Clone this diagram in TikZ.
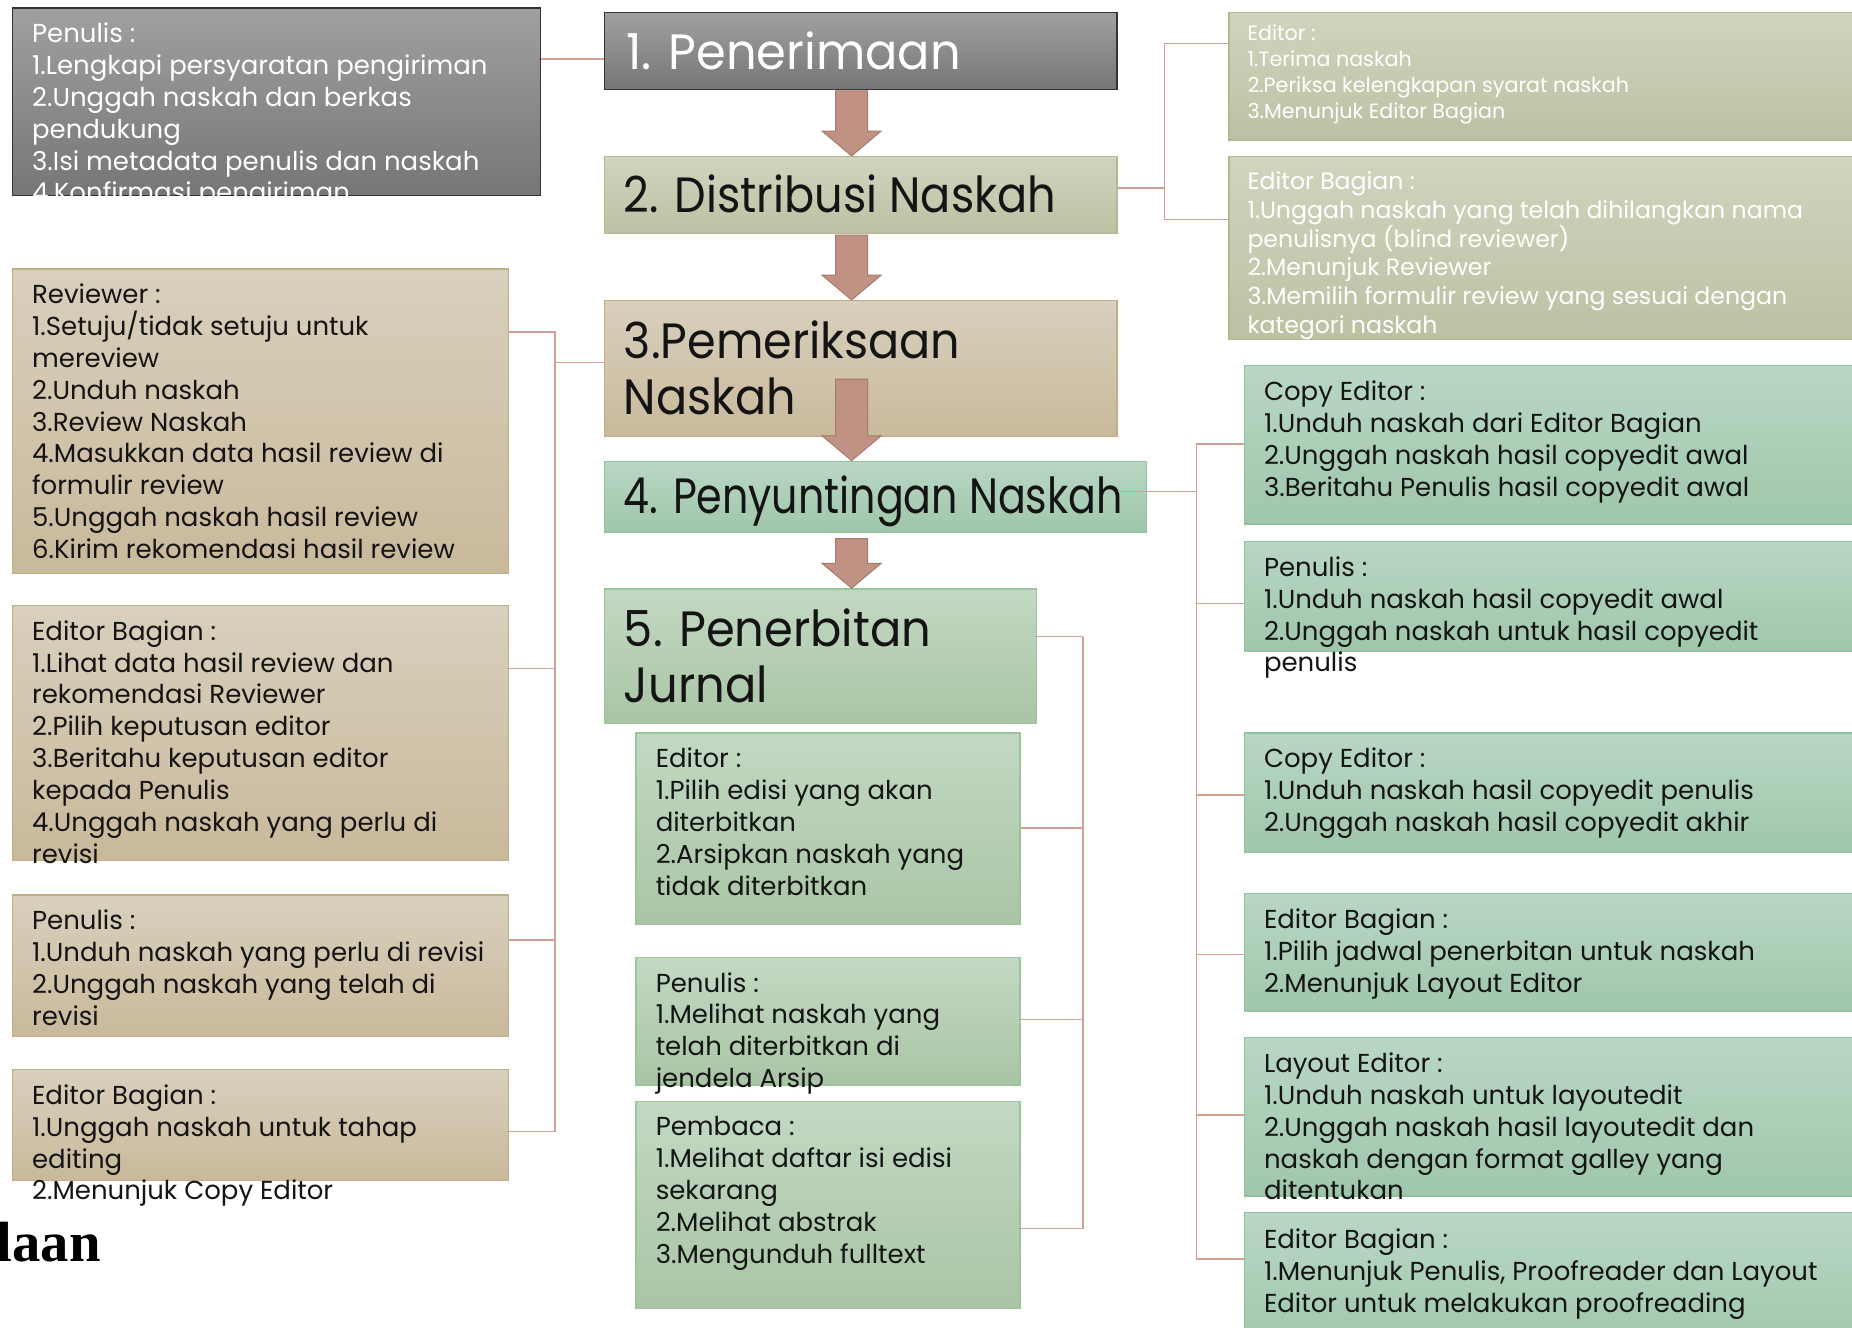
\documentclass[tikz,border=0pt]{standalone}
\usepackage{fontspec}
\newfontfamily\cg{Poppins}
\newfontfamily\fragfont{Liberation Serif}
\usetikzlibrary{calc}
\definecolor{grayT}{HTML}{A0A0A0}
\definecolor{grayBot}{HTML}{767676}
\definecolor{grayB}{HTML}{333333}
\definecolor{oliveT}{HTML}{D1D4BE}
\definecolor{oliveBot}{HTML}{BCC1A3}
\definecolor{oliveB}{HTML}{B3B993}
\definecolor{tanT}{HTML}{D8D0BD}
\definecolor{tanBot}{HTML}{C9B99B}
\definecolor{tanB}{HTML}{C0AE86}
\definecolor{greenT}{HTML}{B9D7C4}
\definecolor{greenBot}{HTML}{9FC6AA}
\definecolor{greenB}{HTML}{8EC29D}
\definecolor{lgreenT}{HTML}{C3D8C3}
\definecolor{lgreenBot}{HTML}{A9C5A5}
\definecolor{lgreenB}{HTML}{9CC49A}
\definecolor{connc}{HTML}{D0A195}
\definecolor{arrF}{HTML}{C09284}
\definecolor{arrB}{HTML}{A6796C}
\definecolor{txtc}{HTML}{141414}
\newcommand{\blockarrow}[4]{% x, top, head start, tip
  \draw[blockarr] (#1-13.5,#2) -- (#1+13.5,#2) -- (#1+13.5,#3) -- (#1+25,#3)
    -- (#1,#4) -- (#1-25,#3) -- (#1-13.5,#3) -- cycle;}
\newcommand{\hs}[2]{\scalebox{#1}[1]{#2}}
\begin{document}
\begin{tikzpicture}[x=1pt,y=-1pt,
  box/.style={rectangle, inner sep=0pt, anchor=north west, line width=1.2pt},
  graybox/.style={box, draw=grayB, top color=grayT, bottom color=grayBot},
  olivebox/.style={box, draw=oliveB, top color=oliveT, bottom color=oliveBot},
  tanbox/.style={box, draw=tanB, top color=tanT, bottom color=tanBot},
  greenbox/.style={box, draw=greenB, top color=greenT, bottom color=greenBot},
  lgreenbox/.style={box, draw=lgreenB, top color=lgreenT, bottom color=lgreenBot},
  txt/.style={anchor=north west, inner sep=0pt, align=left, text=txtc,
    font=\cg\fontsize{22}{27}\selectfont},
  wtxt/.style={txt, text=white},
  title/.style={anchor=north west, inner sep=0pt, align=left, text=txtc,
    font=\cg\fontsize{42}{48}\selectfont},
  conn/.style={draw=connc, line width=1.3pt},
  blockarr/.style={fill=arrF, draw=arrB, line width=0.8pt, line join=miter}
]
\useasboundingbox (0,0) rectangle (1568,1124);

% ---------- centre column ----------
\node[graybox, minimum width=434pt, minimum height=65pt] (B1) at (511,10) {};
\node[olivebox, minimum width=434pt, minimum height=65pt] (B2) at (511,132) {};
\node[tanbox, minimum width=434pt, minimum height=115pt] (B3) at (511,254) {};
\node[greenbox, minimum width=459pt, minimum height=60pt] (B4) at (511,390) {};
\node[lgreenbox, minimum width=366pt, minimum height=114pt] (B5) at (511,498) {};

\node[title, text=white] (B1t) at (530,27) {\hs{0.966}{1. Penerimaan}};
\node[title] (B2t) at (528,148) {\hs{0.90}{2. Distribusi Naskah}};
\node[title] (B3t) at (528,271) {\hs{0.93}{3.Pemeriksaan}\\\hs{0.93}{Naskah}};
\node[title] (B4t) at (528,403) {\hs{0.83}{4. Penyuntingan Naskah}};
\node[title] (B5t) at (528,515) {\hs{0.935}{5. Penerbitan}\\\hs{0.935}{Jurnal}};

% ---------- top-left grey box ----------
\node[graybox, minimum width=447pt, minimum height=159pt] (G) at (10,6) {};
\begin{scope}
\clip (G.north west) rectangle (G.south east);
\node[wtxt] (Gt) at (27,19) {Penulis :\\1.Lengkapi persyaratan pengiriman\\2.Unggah naskah dan berkas\\pendukung\\3.Isi metadata penulis dan naskah\\4.Konfirmasi pengiriman};
\end{scope}

% ---------- top-right olive boxes ----------
\node[olivebox, minimum width=560pt, minimum height=108pt] (R1) at (1040,10) {};
\node[olivebox, minimum width=560pt, minimum height=155pt] (R2) at (1040,132) {};
\node[wtxt, font=\cg\fontsize{17.5}{22}\selectfont] (R1t) at (1056,21) {Editor :\\1.Terima naskah\\2.Periksa kelengkapan syarat naskah\\3.Menunjuk Editor Bagian};
\node[wtxt, font=\cg\fontsize{20}{24.4}\selectfont] (R2t) at (1056,145) {Editor Bagian :\\1.Unggah naskah yang telah dihilangkan nama\\penulisnya (blind reviewer)\\2.Menunjuk Reviewer\\3.Memilih formulir review yang sesuai dengan\\kategori naskah};

% ---------- left tan boxes ----------
\node[tanbox, minimum width=420pt, minimum height=258pt] (L1) at (10,227) {};
\node[tanbox, minimum width=420pt, minimum height=216pt] (L2) at (10,512) {};
\node[tanbox, minimum width=420pt, minimum height=120pt] (L3) at (10,757) {};
\node[tanbox, minimum width=420pt, minimum height=94pt] (L4) at (10,905) {};
\node[txt] (L1t) at (27,240) {Reviewer :\\1.Setuju/tidak setuju untuk\\mereview\\2.Unduh naskah\\3.Review Naskah\\4.Masukkan data hasil review di\\formulir review\\5.Unggah naskah hasil review\\6.Kirim rekomendasi hasil review};
\node[txt] (L2t) at (27,525) {Editor Bagian :\\1.Lihat data hasil review dan\\rekomendasi Reviewer\\2.Pilih keputusan editor\\3.Beritahu keputusan editor\\kepada Penulis\\4.Unggah naskah yang perlu di\\revisi};
\node[txt] (L3t) at (27,770) {Penulis :\\1.Unduh naskah yang perlu di revisi\\2.Unggah naskah yang telah di\\revisi};
\node[txt] (L4t) at (27,918) {Editor Bagian :\\1.Unggah naskah untuk tahap\\editing\\2.Menunjuk Copy Editor};

% ---------- middle green boxes ----------
\node[lgreenbox, minimum width=325pt, minimum height=162pt] (M1) at (538,620) {};
\node[lgreenbox, minimum width=325pt, minimum height=108pt] (M2) at (538,810) {};
\node[lgreenbox, minimum width=325pt, minimum height=175pt] (M3) at (538,932) {};
\node[txt] (M1t) at (555,633) {Editor :\\1.Pilih edisi yang akan\\diterbitkan\\2.Arsipkan naskah yang\\tidak diterbitkan};
\node[txt] (M2t) at (555,823) {Penulis :\\1.Melihat naskah yang\\telah diterbitkan di\\jendela Arsip};
\node[txt] (M3t) at (555,945) {Pembaca :\\1.Melihat daftar isi edisi\\sekarang\\2.Melihat abstrak\\3.Mengunduh fulltext};

% ---------- right green boxes ----------
\node[greenbox, minimum width=547pt, minimum height=134pt] (R3) at (1053,309) {};
\node[greenbox, minimum width=547pt, minimum height=93pt] (R4) at (1053,458) {};
\node[greenbox, minimum width=547pt, minimum height=101pt] (R5) at (1053,620) {};
\node[greenbox, minimum width=547pt, minimum height=100pt] (R6) at (1053,756) {};
\node[greenbox, minimum width=547pt, minimum height=134pt] (R7) at (1053,878) {};
\node[greenbox, minimum width=547pt, minimum height=120pt] (R8) at (1053,1026) {};
\node[txt] (R3t) at (1070,322) {Copy Editor :\\1.Unduh naskah dari Editor Bagian\\2.Unggah naskah hasil copyedit awal\\3.Beritahu Penulis hasil copyedit awal};
\node[txt] (R4t) at (1070,471) {Penulis :\\1.Unduh naskah hasil copyedit awal\\2.Unggah naskah untuk hasil copyedit\\penulis};
\node[txt] (R5t) at (1070,633) {Copy Editor :\\1.Unduh naskah hasil copyedit penulis\\2.Unggah naskah hasil copyedit akhir};
\node[txt] (R6t) at (1070,769) {Editor Bagian :\\1.Pilih jadwal penerbitan untuk naskah\\2.Menunjuk Layout Editor};
\node[txt] (R7t) at (1070,891) {Layout Editor :\\1.Unduh naskah untuk layoutedit\\2.Unggah naskah hasil layoutedit dan\\naskah dengan format galley yang\\ditentukan};
\node[txt] (R8t) at (1070,1040) {Editor Bagian :\\1.Menunjuk Penulis, Proofreader dan Layout\\Editor untuk melakukan proofreading};

% ---------- cut-off title fragment ----------
\node[anchor=base west, inner sep=0pt, font=\fragfont\fontsize{48}{52}\selectfont\bfseries] (frag) at (-3,1068) {laan};

% ---------- connectors ----------
\draw[conn] (G.east |- 0,50) -- (B1.west |- 0,50);

\coordinate (jT) at (986,159);
\draw[conn] (B2.east |- jT) -- (jT);
\draw[conn] (R1.west |- 0,37) -| (jT);
\draw[conn] (R2.west |- 0,186) -| (jT);

\coordinate (jL) at (470,307);
\draw[conn] (B3.west |- jL) -- (jL);
\draw[conn] (L1.east |- 0,281) -| (jL);
\draw[conn] (L2.east |- 0,566) -| (jL);
\draw[conn] (L3.east |- 0,796) -| (jL);
\draw[conn] (L4.east |- 0,958) -| (jL);

\coordinate (jR) at (1013,416);
\draw[conn] ([xshift=-25pt]B4.east |- jR) -- (jR);
\draw[conn] (R3.west |- 0,376) -| (jR);
\draw[conn] (R4.west |- 0,511) -| (jR);
\draw[conn] (R5.west |- 0,673) -| (jR);
\draw[conn] (R6.west |- 0,808) -| (jR);
\draw[conn] (R7.west |- 0,944) -| (jR);
\draw[conn] (R8.west |- 0,1066) -| (jR);

\coordinate (jM) at (917,539);
\draw[conn] (B5.east |- jM) -- (jM);
\draw[conn] (M1.east |- 0,701) -| (jM);
\draw[conn] (M2.east |- 0,863) -| (jM);
\draw[conn] (M3.east |- 0,1040) -| (jM);

% ---------- block arrows ----------
\blockarrow{721}{77}{111}{132}
\blockarrow{721}{199}{233}{254}
\blockarrow{721}{321}{369}{390}
\blockarrow{721}{456}{477}{498}
\end{tikzpicture}
\end{document}
